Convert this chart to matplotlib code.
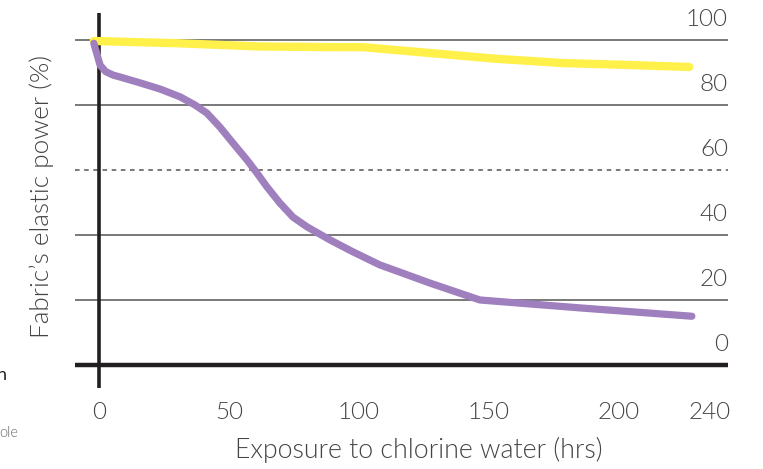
import matplotlib.pyplot as plt

# Datos
horas_morado = [-2, 0.4, 2.5, 5.4, 8.1, 15.8, 23.5, 31.2, 36.9, 41.5, 46.5, 51.5, 56.9, 60.8, 64.6,
                69.6, 74.6, 80, 88.8, 97.7, 108, 127.3, 146.5, 186, 228]
elastic_morado = [99, 92.3, 90.3, 89.2, 88.6, 86.8, 84.9, 82.5, 80, 77.5, 73.2, 68.3, 63.1, 59, 54.8,
                  49.8, 45.5, 42.5, 38.5, 34.8, 30.8, 25.2, 20, 17.5, 15]

horas_amarillo = [-2, 30, 61.9, 88.8, 101.5, 127, 153, 178.5, 204, 227]
elastic_amarillo = [99.7, 99, 98, 97.8, 97.8, 96, 94.2, 92.9, 92.3, 91.7]

x_ticks = [0, 50, 100, 150, 200, 235]
x_labels = ['0', '50', '100', '150', '200', '240']
y_grid = [0, 20, 40, 60, 80, 100]
y_labels = ['0', '20', '40', '60', '80', '100']

fuente = 'Lato'
peso = 300
gris = '#555555'
texto = '#444444'

fig = plt.figure(figsize=(7.63, 4.69), dpi=100)
ax = fig.add_axes([75 / 763, 1 - 388 / 469, 653 / 763, 375 / 469])
ax.set_xlim(-9.23, 241.9)
ax.set_ylim(-7.08, 108.3)

# Lineas de la cuadricula
for v, lab in zip(y_grid, y_labels):
    if v == 0:
        ax.axhline(v, color='#231f20', lw=3.2, zorder=2)
    elif v == 60:
        ax.axhline(v, color=gris, lw=1.1, ls=(0, (3, 3)), zorder=1)
    else:
        ax.axhline(v, color=gris, lw=1.1, zorder=1)
    ax.text(241.9, v + 4.3, lab, ha='right', va='baseline', fontsize=17.5,
            family=fuente, fontweight=peso, color=texto)

ax.axvline(0, color='#231f20', lw=2.6, zorder=2)

# Curvas
ax.plot(horas_amarillo, elastic_amarillo, color='#fff04a', lw=6, solid_capstyle='round',
        solid_joinstyle='round', zorder=3)
ax.plot(horas_morado, elastic_morado, color='#9f7fbd', lw=5.2, solid_capstyle='round',
        solid_joinstyle='round', zorder=4)

ax.set_xticks(x_ticks)
ax.set_xticklabels(x_labels, fontsize=17.5, family=fuente, fontweight=peso, color=texto)
ax.tick_params(axis='x', length=0, pad=10)
ax.set_yticks([])
for s in ax.spines.values():
    s.set_visible(False)

fig.text(419 / 763, 1 - 450 / 469, 'Exposure to chlorine water (hrs)', ha='center', va='center',
         fontsize=19.3, family=fuente, fontweight=peso, color=texto)
fig.text(42 / 763, 1 - 196 / 469, "Fabric\u2019s elastic power (%)", ha='center', va='center',
         rotation=90, fontsize=18.8, family=fuente, fontweight=peso, color=texto)

# Restos de texto cortado en el borde izquierdo
fig.text(-3 / 763, 1 - 375 / 469, 'n', ha='left', va='center', fontsize=13, family=fuente,
         color='#222222')
fig.text(-1 / 763, 1 - 433 / 469, 'ole', ha='left', va='center', fontsize=10.5, family=fuente,
         fontweight=peso, color='#666666')

fig.savefig('out.png', dpi=100)
